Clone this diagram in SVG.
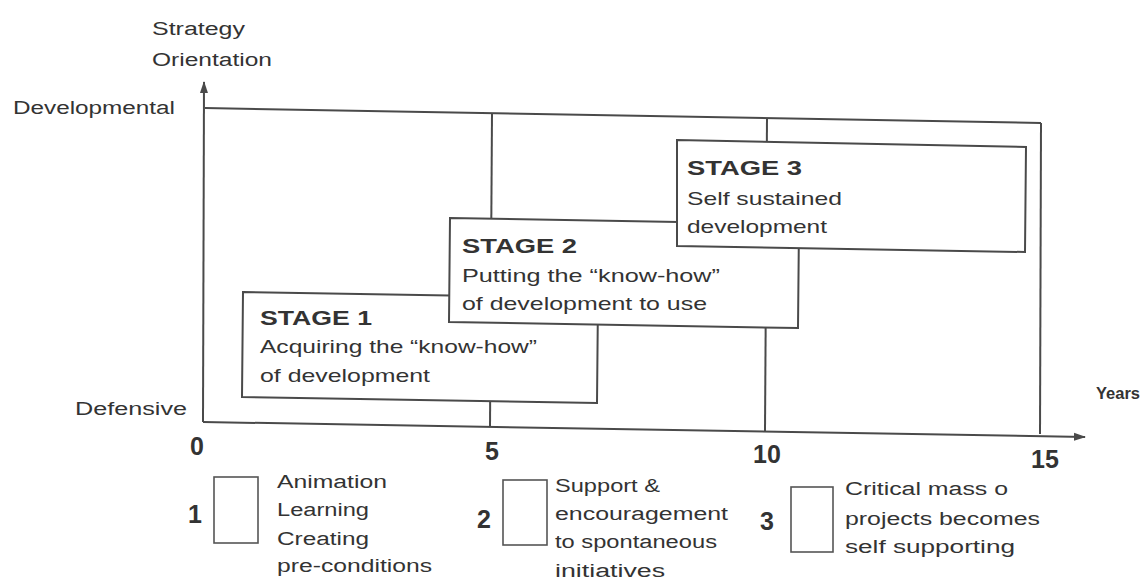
<svg xmlns="http://www.w3.org/2000/svg" width="1140" height="581" viewBox="0 0 1140 581">
<defs>
<style>
.ln{stroke:#4a4a4a;stroke-width:2;fill:none}
.bx{stroke:#4a4a4a;stroke-width:2;fill:#fff}
.lg{stroke:#555;stroke-width:1.6;fill:#fff}
text{font-family:"Liberation Sans",Arial,sans-serif;fill:#333}
.lab{font-size:18px}
.st{font-size:20px;font-weight:bold}
.bd{font-size:19px}
.tk{font-size:25px;font-weight:bold;text-anchor:middle}
.yr{font-size:16px;font-weight:bold}
</style>
<marker id="ah" markerWidth="12" markerHeight="10" refX="11" refY="5" orient="auto" markerUnits="userSpaceOnUse">
<path d="M0,1 L12,5 L0,9 Z" fill="#4a4a4a"/>
</marker>
</defs>
<rect width="1140" height="581" fill="#fff"/>
<g id="axes-labels">
<text class="lab" x="152" y="35" textLength="93" lengthAdjust="spacingAndGlyphs">Strategy</text>
<text class="lab" x="152" y="66" textLength="120" lengthAdjust="spacingAndGlyphs">Orientation</text>
<text class="lab" x="13" y="114" textLength="162" lengthAdjust="spacingAndGlyphs">Developmental</text>
<text class="lab" x="75" y="415" textLength="112" lengthAdjust="spacingAndGlyphs">Defensive</text>
<text class="yr" x="1096" y="399" textLength="44" lengthAdjust="spacingAndGlyphs">Years</text>
<text class="tk" x="197" y="455">0</text>
<text class="tk" x="492" y="460">5</text>
<text class="tk" x="767" y="463">10</text>
<text class="tk" x="1045" y="468">15</text>
</g>
<g id="connectors">
<line class="ln" x1="203" y1="422" x2="204" y2="82" marker-end="url(#ah)"/>
<line class="ln" x1="203" y1="422" x2="1085" y2="437" marker-end="url(#ah)"/>
<line class="ln" x1="205" y1="108" x2="1041" y2="123"/>
<line class="ln" x1="1041" y1="123" x2="1040" y2="434"/>
<line class="ln" x1="492" y1="113" x2="490" y2="427"/>
<line class="ln" x1="767" y1="118" x2="765" y2="431"/>
</g>
<g id="stage1">
<polygon class="bx" points="243,292 598,298 597,403 242,397"/>
<text class="st" x="260" y="325" textLength="112" lengthAdjust="spacingAndGlyphs">STAGE 1</text>
<text class="bd" x="260" y="353" textLength="277" lengthAdjust="spacingAndGlyphs">Acquiring the “know-how”</text>
<text class="bd" x="260" y="382" textLength="170" lengthAdjust="spacingAndGlyphs">of development</text>
</g>
<g id="stage2">
<polygon class="bx" points="450,218 799,224 798,328 449,322"/>
<text class="st" x="462" y="253" textLength="115" lengthAdjust="spacingAndGlyphs">STAGE 2</text>
<text class="bd" x="462" y="282" textLength="258" lengthAdjust="spacingAndGlyphs">Putting the “know-how”</text>
<text class="bd" x="462" y="310" textLength="245" lengthAdjust="spacingAndGlyphs">of development to use</text>
</g>
<g id="stage3">
<polygon class="bx" points="677,140 1026,147 1025,252 677,246"/>
<text class="st" x="687" y="175" textLength="115" lengthAdjust="spacingAndGlyphs">STAGE 3</text>
<text class="bd" x="687" y="205" textLength="155" lengthAdjust="spacingAndGlyphs">Self sustained</text>
<text class="bd" x="687" y="233" textLength="140" lengthAdjust="spacingAndGlyphs">development</text>
</g>
<g id="legend1">
<text class="tk" x="195" y="523">1</text>
<rect class="lg" x="214" y="477" width="44" height="66"/>
<text class="lab" x="277" y="488" textLength="110" lengthAdjust="spacingAndGlyphs">Animation</text>
<text class="lab" x="277" y="516" textLength="92" lengthAdjust="spacingAndGlyphs">Learning</text>
<text class="lab" x="277" y="545" textLength="92" lengthAdjust="spacingAndGlyphs">Creating</text>
<text class="lab" x="277" y="572" textLength="155" lengthAdjust="spacingAndGlyphs">pre-conditions</text>
</g>
<g id="legend2">
<text class="tk" x="484" y="528">2</text>
<rect class="lg" x="503" y="480" width="44" height="65"/>
<text class="lab" x="555" y="492" textLength="105" lengthAdjust="spacingAndGlyphs">Support &amp;</text>
<text class="lab" x="555" y="520" textLength="173" lengthAdjust="spacingAndGlyphs">encouragement</text>
<text class="lab" x="555" y="548" textLength="162" lengthAdjust="spacingAndGlyphs">to spontaneous</text>
<text class="lab" x="555" y="577" textLength="110" lengthAdjust="spacingAndGlyphs">initiatives</text>
</g>
<g id="legend3">
<text class="tk" x="767" y="530">3</text>
<rect class="lg" x="791" y="487" width="42" height="65"/>
<text class="lab" x="845" y="495" textLength="163" lengthAdjust="spacingAndGlyphs">Critical mass o</text>
<text class="lab" x="845" y="525" textLength="195" lengthAdjust="spacingAndGlyphs">projects becomes</text>
<text class="lab" x="845" y="553" textLength="170" lengthAdjust="spacingAndGlyphs">self supporting</text>
</g>
</svg>
